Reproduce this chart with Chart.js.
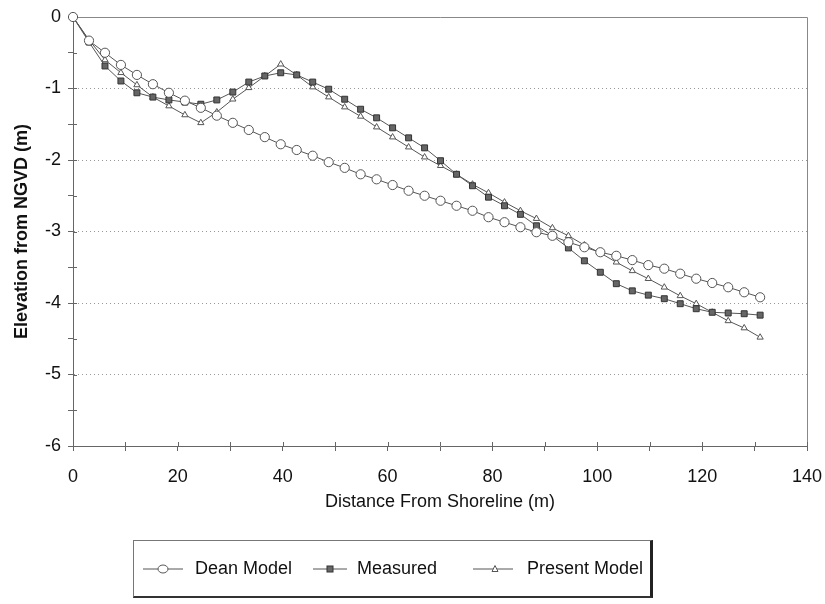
<!DOCTYPE html>
<html>
<head>
<meta charset="utf-8">
<script src="https://cdn.jsdelivr.net/npm/chart.js@4.4.0/dist/chart.umd.min.js"></script>
<style>
  html, body { margin: 0; padding: 0; background: #fff; }
  #wrap { position: relative; width: 825px; height: 604px; font-family: "Liberation Sans", Arial, sans-serif; }
  #legend { position: absolute; left: 133px; top: 540px; width: 520px; height: 58px;
            border: 1px solid #777; border-right: 3px solid #222; border-bottom: 2px solid #333; box-sizing: border-box; }
  .item { position: absolute; top: 0; height: 55px; line-height: 55px; font-size: 18px; color: #111; white-space: nowrap; }
  .item svg { position: absolute; top: 23px; left: 0; }
  .item span { position: absolute; top: 0; }
</style>
</head>
<body>
<div id="wrap">
  <canvas id="profileChart" width="825" height="604"></canvas>
  <div id="legend">
    <div class="item" style="left:9px"><svg width="42" height="10"><line x1="0" y1="5" x2="40" y2="5" stroke="#555" stroke-width="1"/><ellipse cx="20" cy="5" rx="5" ry="4" fill="#fff" stroke="#555"/></svg><span style="left:52px">Dean Model</span></div>
    <div class="item" style="left:179px"><svg width="36" height="10"><line x1="0" y1="5" x2="34" y2="5" stroke="#555" stroke-width="1"/><rect x="14" y="2" width="6" height="6" fill="#666" stroke="#333"/></svg><span style="left:44px">Measured</span></div>
    <div class="item" style="left:339px"><svg width="42" height="10"><line x1="0" y1="5" x2="40" y2="5" stroke="#555" stroke-width="1"/><polygon points="22,1.5 25,7.5 19,7.5" fill="#fff" stroke="#555"/></svg><span style="left:54px">Present Model</span></div>
  </div>
</div>
<script>
// Distance from shoreline (m), points every 10 ft
const distance = [0, 3.05, 6.10, 9.14, 12.19, 15.24, 18.29, 21.34, 24.38, 27.43, 30.48, 33.53, 36.58, 39.62,
  42.67, 45.72, 48.77, 51.82, 54.86, 57.91, 60.96, 64.01, 67.06, 70.10, 73.15, 76.20, 79.25, 82.30,
  85.34, 88.39, 91.44, 94.49, 97.54, 100.58, 103.63, 106.68, 109.73, 112.78, 115.82, 118.87, 121.92,
  124.97, 128.02, 131.06];

// Elevation from NGVD (m)
const deanModel = [0, -0.33, -0.50, -0.67, -0.81, -0.94, -1.06, -1.17, -1.27, -1.38, -1.48, -1.58, -1.68, -1.78,
  -1.86, -1.94, -2.03, -2.11, -2.20, -2.27, -2.35, -2.43, -2.50, -2.57, -2.64, -2.71, -2.80, -2.87,
  -2.94, -3.01, -3.06, -3.15, -3.22, -3.29, -3.34, -3.40, -3.47, -3.52, -3.59, -3.66, -3.72,
  -3.78, -3.85, -3.92];

const measured = [0, -0.35, -0.685, -0.895, -1.06, -1.12, -1.16, -1.19, -1.22, -1.16, -1.05, -0.91, -0.825, -0.78,
  -0.81, -0.91, -1.01, -1.15, -1.29, -1.41, -1.55, -1.69, -1.83, -2.01, -2.20, -2.36, -2.52, -2.64,
  -2.76, -2.92, -3.06, -3.23, -3.41, -3.57, -3.73, -3.83, -3.89, -3.94, -4.01, -4.08, -4.13,
  -4.14, -4.15, -4.17];

const presentModel = [0, -0.32, -0.60, -0.78, -0.95, -1.12, -1.245, -1.37, -1.48, -1.33, -1.15, -0.99, -0.825, -0.66,
  -0.81, -0.98, -1.12, -1.26, -1.39, -1.54, -1.68, -1.82, -1.96, -2.08, -2.20, -2.34, -2.46, -2.59,
  -2.71, -2.82, -2.95, -3.06, -3.19, -3.30, -3.43, -3.55, -3.66, -3.78, -3.90, -4.01, -4.13,
  -4.25, -4.35, -4.48];

const FONT = '"Liberation Sans", Arial, sans-serif';

function pts(ys) { return distance.map((x, i) => ({ x: x, y: ys[i] })); }

// frame on top and right side, plus small inner tick marks
const framePlugin = {
  id: 'frame',
  beforeDatasetsDraw(chart) {
    const { ctx, chartArea: a, scales } = chart;
    ctx.save();
    ctx.strokeStyle = '#888';
    ctx.lineWidth = 1;
    ctx.beginPath();
    ctx.moveTo(a.left, a.top + 0.5);
    ctx.lineTo(a.right + 0.5, a.top + 0.5);
    ctx.lineTo(a.right + 0.5, a.bottom);
    ctx.stroke();
    ctx.strokeStyle = '#666';
    ctx.beginPath();
    scales.x.ticks.forEach(t => {
      const px = Math.round(scales.x.getPixelForValue(t.value)) + 0.5;
      ctx.moveTo(px, a.bottom); ctx.lineTo(px, a.bottom - 4);
    });
    scales.y.ticks.forEach(t => {
      const py = Math.round(scales.y.getPixelForValue(t.value)) + 0.5;
      ctx.moveTo(a.left, py); ctx.lineTo(a.left + 4, py);
    });
    ctx.stroke();
    ctx.restore();
  }
};

new Chart(document.getElementById('profileChart').getContext('2d'), {
  type: 'scatter',
  data: {
    datasets: [
      { label: 'Dean Model', data: pts(deanModel), showLine: true, borderColor: '#555', borderWidth: 1,
        pointStyle: 'circle', pointRadius: 4.6, pointBackgroundColor: '#fff', pointBorderColor: '#555', pointBorderWidth: 1, clip: false },
      { label: 'Measured', data: pts(measured), showLine: true, borderColor: '#555', borderWidth: 1,
        pointStyle: 'rect', pointRadius: 4.2, pointBackgroundColor: '#666', pointBorderColor: '#333', pointBorderWidth: 1, clip: false },
      { label: 'Present Model', data: pts(presentModel), showLine: true, borderColor: '#555', borderWidth: 1,
        pointStyle: 'triangle', pointRadius: 3.6, pointBackgroundColor: '#fff', pointBorderColor: '#555', pointBorderWidth: 1, clip: false }
    ]
  },
  options: {
    responsive: false,
    animation: false,
    devicePixelRatio: 1,
    layout: { padding: { left: 0, top: 17, right: 18, bottom: 91 } },
    plugins: { legend: { display: false }, tooltip: { enabled: false } },
    scales: {
      x: {
        type: 'linear', min: 0, max: 140,
        afterFit: s => { s.height = 67; s.paddingLeft = 0; s.paddingRight = 0; },
        ticks: { stepSize: 10, autoSkip: false, maxRotation: 0, padding: 15, color: '#111',
                 font: { family: FONT, size: 18 },
                 callback: v => (v % 20 === 0 ? v : '') },
        grid: { drawOnChartArea: false, tickLength: 5, tickColor: '#666' },
        border: { color: '#666', width: 1 },
        title: { display: true, text: 'Distance From Shoreline (m)', color: '#111',
                 font: { family: FONT, size: 18 }, padding: 0 }
      },
      y: {
        min: -6, max: 0,
        afterFit: s => { s.width = 73; s.paddingTop = 0; s.paddingBottom = 0; },
        ticks: { stepSize: 0.5, autoSkip: false, padding: 7, color: '#111',
                 font: { family: FONT, size: 18 },
                 callback: v => (Number.isInteger(v) ? v : '') },
        grid: {
          tickLength: 5, tickColor: '#666', lineWidth: 1,
          color: c => (Number.isInteger(c.tick.value) && c.tick.value !== 0 && c.tick.value !== -6) ? '#999' : 'rgba(0,0,0,0)'
        },
        border: { color: '#666', width: 1, dash: [1, 3] },
        title: { display: true, text: 'Elevation from NGVD (m)', color: '#111',
                 font: { family: FONT, size: 18, weight: 'bold' }, padding: { top: 11, bottom: 0 } }
      }
    }
  },
  plugins: [framePlugin]
});
</script>
</body>
</html>
